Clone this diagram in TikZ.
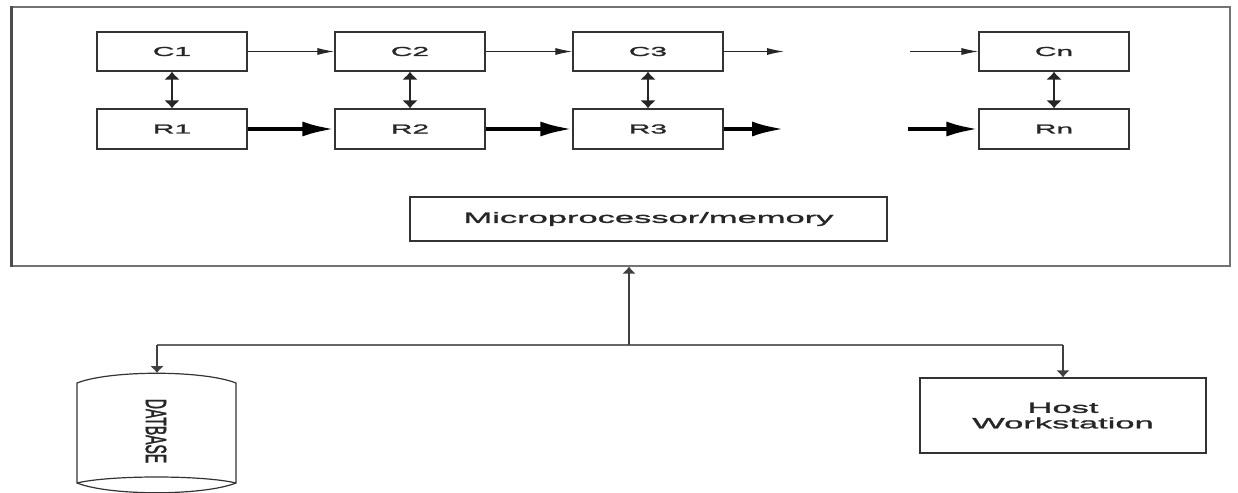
\documentclass[tikz,border=0pt]{standalone}
\usepackage{fontspec}
\setmainfont[FakeStretch=2.3,FakeBold=1.6]{Liberation Sans}
\newfontfamily\dbfont[FakeBold=2]{Liberation Sans}
\usetikzlibrary{arrows.meta}
\begin{document}
\begin{tikzpicture}[x=1pt,y=-1pt]
    \tikzstyle{block}=[draw=black!80,line width=1.3pt,inner sep=0pt,minimum width=150pt,minimum height=39pt,text=black!85,font=\fontsize{13}{15}\selectfont]
    \tikzstyle{thinarr}=[-{Latex[length=17pt,width=7pt]},line width=1pt,black!85]
    \tikzstyle{thickarr}=[-{Latex[length=32pt,width=15pt]},line width=4pt,black]
    \tikzstyle{duplex}=[{Latex[length=8pt,width=16pt]}-{Latex[length=8pt,width=16pt]},line width=1.8pt,black!85]
    \tikzstyle{busline}=[line width=1.4pt,black!60]
    \tikzstyle{tap}=[-{Latex[length=7pt,width=14pt]},line width=1.4pt,black!75]
    \useasboundingbox (0,0) rectangle (1238,492);
    \node (board)[draw=black!55,line width=1.2pt,minimum width=1218pt,minimum height=259pt,inner sep=0pt] at (621,136.5) {};
    \draw [line width=2.6pt,black!70] (board.north west) -- (board.south west);
    \node (c1)[block] at (172,51.5) {C1};
    \node (c2)[block] at (410,51.5) {C2};
    \node (c3)[block] at (648,51.5) {C3};
    \node (cn)[block] at (1054,51.5) {Cn};
    \node (r1)[block,minimum height=40pt] at (172,129) {R1};
    \node (r2)[block,minimum height=40pt] at (410,129) {R2};
    \node (r3)[block,minimum height=40pt] at (648,129) {R3};
    \node (rn)[block,minimum height=40pt] at (1054,129) {Rn};
    \coordinate (c3end) at (784,51.5);
    \coordinate (cnstart) at (910,51.5);
    \coordinate (r3end) at (784,129);
    \coordinate (rnstart) at (908,129);
    \draw [thinarr] (c1) -- (c2);
    \draw [thinarr] (c2) -- (c3);
    \draw [thinarr] (c3) -- (c3end);
    \draw [thinarr] (cnstart) -- (cn);
    \draw [thickarr] (r1) -- (r2);
    \draw [thickarr] (r2) -- (r3);
    \draw [thickarr] (r3) -- (r3end);
    \draw [thickarr] (rnstart) -- (rn);
    \draw [duplex] (c1) -- (r1);
    \draw [duplex] (c2) -- (r2);
    \draw [duplex] (c3) -- (r3);
    \draw [duplex] (cn) -- (rn);
    \node (mpu)[block,minimum width=477pt,minimum height=44pt,font=\fontsize{15}{17}\selectfont] at (648.5,219) {Microprocessor/memory};
    \node (host)[block,minimum width=286pt,minimum height=75pt,align=center,font=\fontsize{15}{15.5}\selectfont] at (1063,415.5) {Host\\Workstation};
    \draw [draw=black!80,line width=1.2pt] (77,383) .. controls (110,370) and (203,370) .. (236,383) -- (236,483) .. controls (203,496) and (110,496) .. (77,483) -- cycle;
    \draw [draw=black!80,line width=1.2pt] (77,483) .. controls (110,475) and (203,475) .. (236,483);
    \node (db)[rotate=-90,text=black!85,font=\dbfont\fontsize{14}{15}\selectfont] at (156,431) {\scalebox{1}[2.1]{DATBASE}};
    \coordinate (hub) at (629,345);
    \coordinate (dbtap) at (157,345);
    \coordinate (hosttap) at (1063,345);
    \coordinate (dbtop) at (157,373);
    \draw [busline] (dbtap) -- (hosttap);
    \draw [tap] (hub) -- (hub |- board.south);
    \draw [tap] (dbtap) -- (dbtop);
    \draw [tap] (hosttap) -- (host);
\end{tikzpicture}
\end{document}
